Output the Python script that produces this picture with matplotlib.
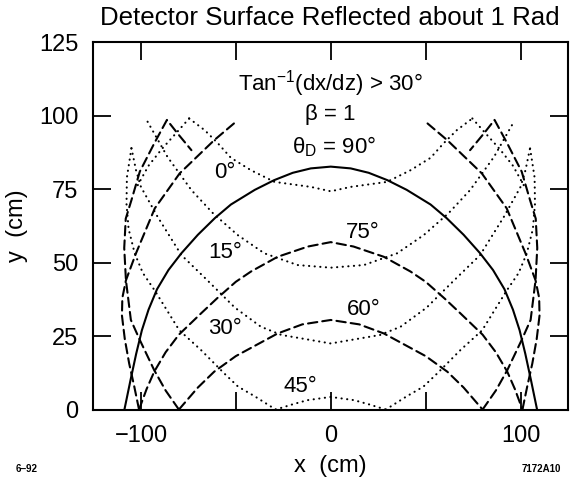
import numpy as np
import matplotlib.pyplot as plt

plt.rcParams['font.family'] = ['Liberation Sans', 'DejaVu Sans']
plt.rcParams['mathtext.fontset'] = 'custom'
plt.rcParams['mathtext.rm'] = 'Liberation Sans'
plt.rcParams['mathtext.it'] = 'Liberation Sans:italic'

# left halves of the curves (x <= 0); right halves are mirror images
# theta_D = 90 (solid arch)
solid_x = [-108.7, -105.5, -102.5, -99.5, -96.0, -91.5, -85.5, -78.7, -70.0, -61.0, -52.6, -40.0, -29.8, -20.0, -10.5, 0.0]
solid_y = [0.0, 10.0, 19.0, 27.0, 34.0, 41.0, 47.5, 53.2, 59.5, 65.2, 69.8, 74.8, 78.1, 80.6, 82.1, 82.7]

# theta_D = 75 (dashed)
d75_arch_x = [-101.0, -97.0, -93.0, -87.0, -80.0, -68.4, -60.0, -50.0, -42.0, -28.0, -12.0, 0.0]
d75_arch_y = [0.0, 7.0, 12.9, 19.5, 25.5, 32.7, 37.8, 43.5, 47.0, 52.0, 55.5, 57.0]
d75_side_x = [-101.0, -103.5, -106.2, -108.5, -110.0, -109.8, -107.9, -102.6, -92.7, -79.6, -61.4, -51.0]
d75_side_y = [0.0, 7.8, 15.7, 24.0, 32.0, 38.0, 44.0, 53.2, 68.5, 80.4, 91.7, 97.4]

# theta_D = 60 (dashed)
d60_arch_x = [-80.0, -70.0, -61.4, -50.0, -42.0, -28.0, -15.0, 0.0]
d60_arch_y = [0.0, 7.5, 12.9, 18.2, 21.0, 25.9, 29.0, 30.5]
d60_side_x = [-80.0, -87.0, -93.0, -100.6, -105.3, -107.9, -108.8, -108.0, -105.0, -100.6, -93.0, -86.3, -80.7, -73.4]
d60_side_y = [0.0, 6.5, 13.4, 23.7, 30.5, 44.0, 55.0, 65.0, 71.3, 81.0, 90.6, 98.6, 94.0, 88.3]

# theta_D = 0, 15, 30, 45 (dotted)
dot0_x = [-74.6, -66.4, -59.4, -52.6, -42.1, -29.6, -10.5, 0.0]
dot0_y = [99.1, 95.1, 90.6, 85.7, 81.5, 77.5, 75.8, 74.3]
dot0_side_x = [-74.6, -81.6, -89.0, -96.0, -102.0]
dot0_side_y = [99.1, 94.0, 88.7, 83.0, 76.0]

dot15_x = [-96.5, -86.0, -73.4, -62.0, -49.0, -43.8, -35.0, -17.5, 0.0]
dot15_y = [98.0, 86.0, 74.7, 66.8, 59.4, 57.1, 53.2, 49.2, 48.3]

dot30_x = [-105.0, -102.6, -100.0, -91.2, -78.7, -65.0, -50.5, -36.8, -26.0, 0.0]
dot30_y = [89.0, 81.5, 75.8, 65.6, 52.6, 44.0, 34.7, 28.2, 25.4, 22.5]

dot45_x = [-29.0, -20.0, -12.3, 0.0]
dot45_y = [0.0, 1.8, 3.2, 4.3]
# 45 deg arm bounced at y = 0, running up the outer edge to the 30 deg cusp
dot45_side_x = [-29.0, -40.0, -48.8, -56.1, -68.4, -79.8, -86.0, -92.7, -99.0, -103.3, -106.5, -107.6, -107.4, -105.0]
dot45_side_y = [0.0, 4.5, 7.8, 12.3, 20.3, 27.0, 33.5, 40.5, 46.5, 53.2, 61.5, 70.0, 79.0, 89.0]

SOLID = '-'
DASH = (0, (4.5, 2.4))
DOT = (0, (0.1, 2.6))


def draw(ax, x, y, ls, sym=False):
    kw = dict(color='black', lw=1.5, linestyle=ls, dash_capstyle='round', solid_capstyle='round')
    x = np.asarray(x)
    y = np.asarray(y)
    if sym:
        # half curve runs from the outer end to x = 0, add the mirror half
        ax.plot(np.concatenate([x, -x[::-1][1:]]), np.concatenate([y, y[::-1][1:]]), **kw)
    else:
        ax.plot(x, y, **kw)
        ax.plot(-x, y, **kw)


fig = plt.figure(figsize=(5.7, 4.87), dpi=100)
ax = fig.add_axes([0.164, 0.159, 0.8325, 0.754])

draw(ax, solid_x, solid_y, SOLID, sym=True)
draw(ax, d75_arch_x, d75_arch_y, DASH, sym=True)
draw(ax, d75_side_x, d75_side_y, DASH)
draw(ax, d60_arch_x, d60_arch_y, DASH, sym=True)
draw(ax, d60_side_x, d60_side_y, DASH)
draw(ax, dot0_x, dot0_y, DOT, sym=True)
draw(ax, dot0_side_x, dot0_side_y, DOT)
draw(ax, dot15_x, dot15_y, DOT, sym=True)
draw(ax, dot30_x, dot30_y, DOT, sym=True)
draw(ax, dot45_x, dot45_y, DOT, sym=True)
draw(ax, dot45_side_x, dot45_side_y, DOT)

ax.set_xlim(-125, 125)
ax.set_ylim(0, 125)
ax.set_xticks([-100, -50, 0, 50, 100])
ax.set_xticklabels(['\u2212100', '', '0', '', '100'])
ax.set_yticks([0, 25, 50, 75, 100, 125])
ax.tick_params(direction='in', length=13, width=1.3, labelsize=17, top=True, right=True, pad=11)
for s in ax.spines.values():
    s.set_linewidth(1.5)

ax.set_xlabel('x  (cm)', fontsize=17, labelpad=6)
ax.set_ylabel('y  (cm)', fontsize=17, labelpad=8)
fig.text(0.578, 0.963, 'Detector Surface Reflected about 1 Rad', ha='center', va='center', fontsize=18.6)

ax.text(0, 111, r'Tan$^{-1}$(dx/dz) > 30°', ha='center', va='center', fontsize=16)
ax.text(0, 100.5, 'β = 1', ha='center', va='center', fontsize=16)
ax.text(2, 89.5, r'θ$_\mathrm{D}$ = 90°', ha='center', va='center', fontsize=16)
ax.text(-55.8, 80.8, '0°', ha='center', va='center', fontsize=16)
ax.text(-55.8, 53.3, '15°', ha='center', va='center', fontsize=16)
ax.text(-55.8, 27.7, '30°', ha='center', va='center', fontsize=16)
ax.text(-15.8, 7.7, '45°', ha='center', va='center', fontsize=16)
ax.text(16.8, 60.4, '75°', ha='center', va='center', fontsize=16)
ax.text(17.4, 33.9, '60°', ha='center', va='center', fontsize=16)

fig.text(0.028, 0.03, '6\u201292', fontsize=7, fontweight='bold')
fig.text(0.985, 0.03, '7172A10', fontsize=7, fontweight='bold', ha='right')

fig.savefig('out.png', dpi=100)
